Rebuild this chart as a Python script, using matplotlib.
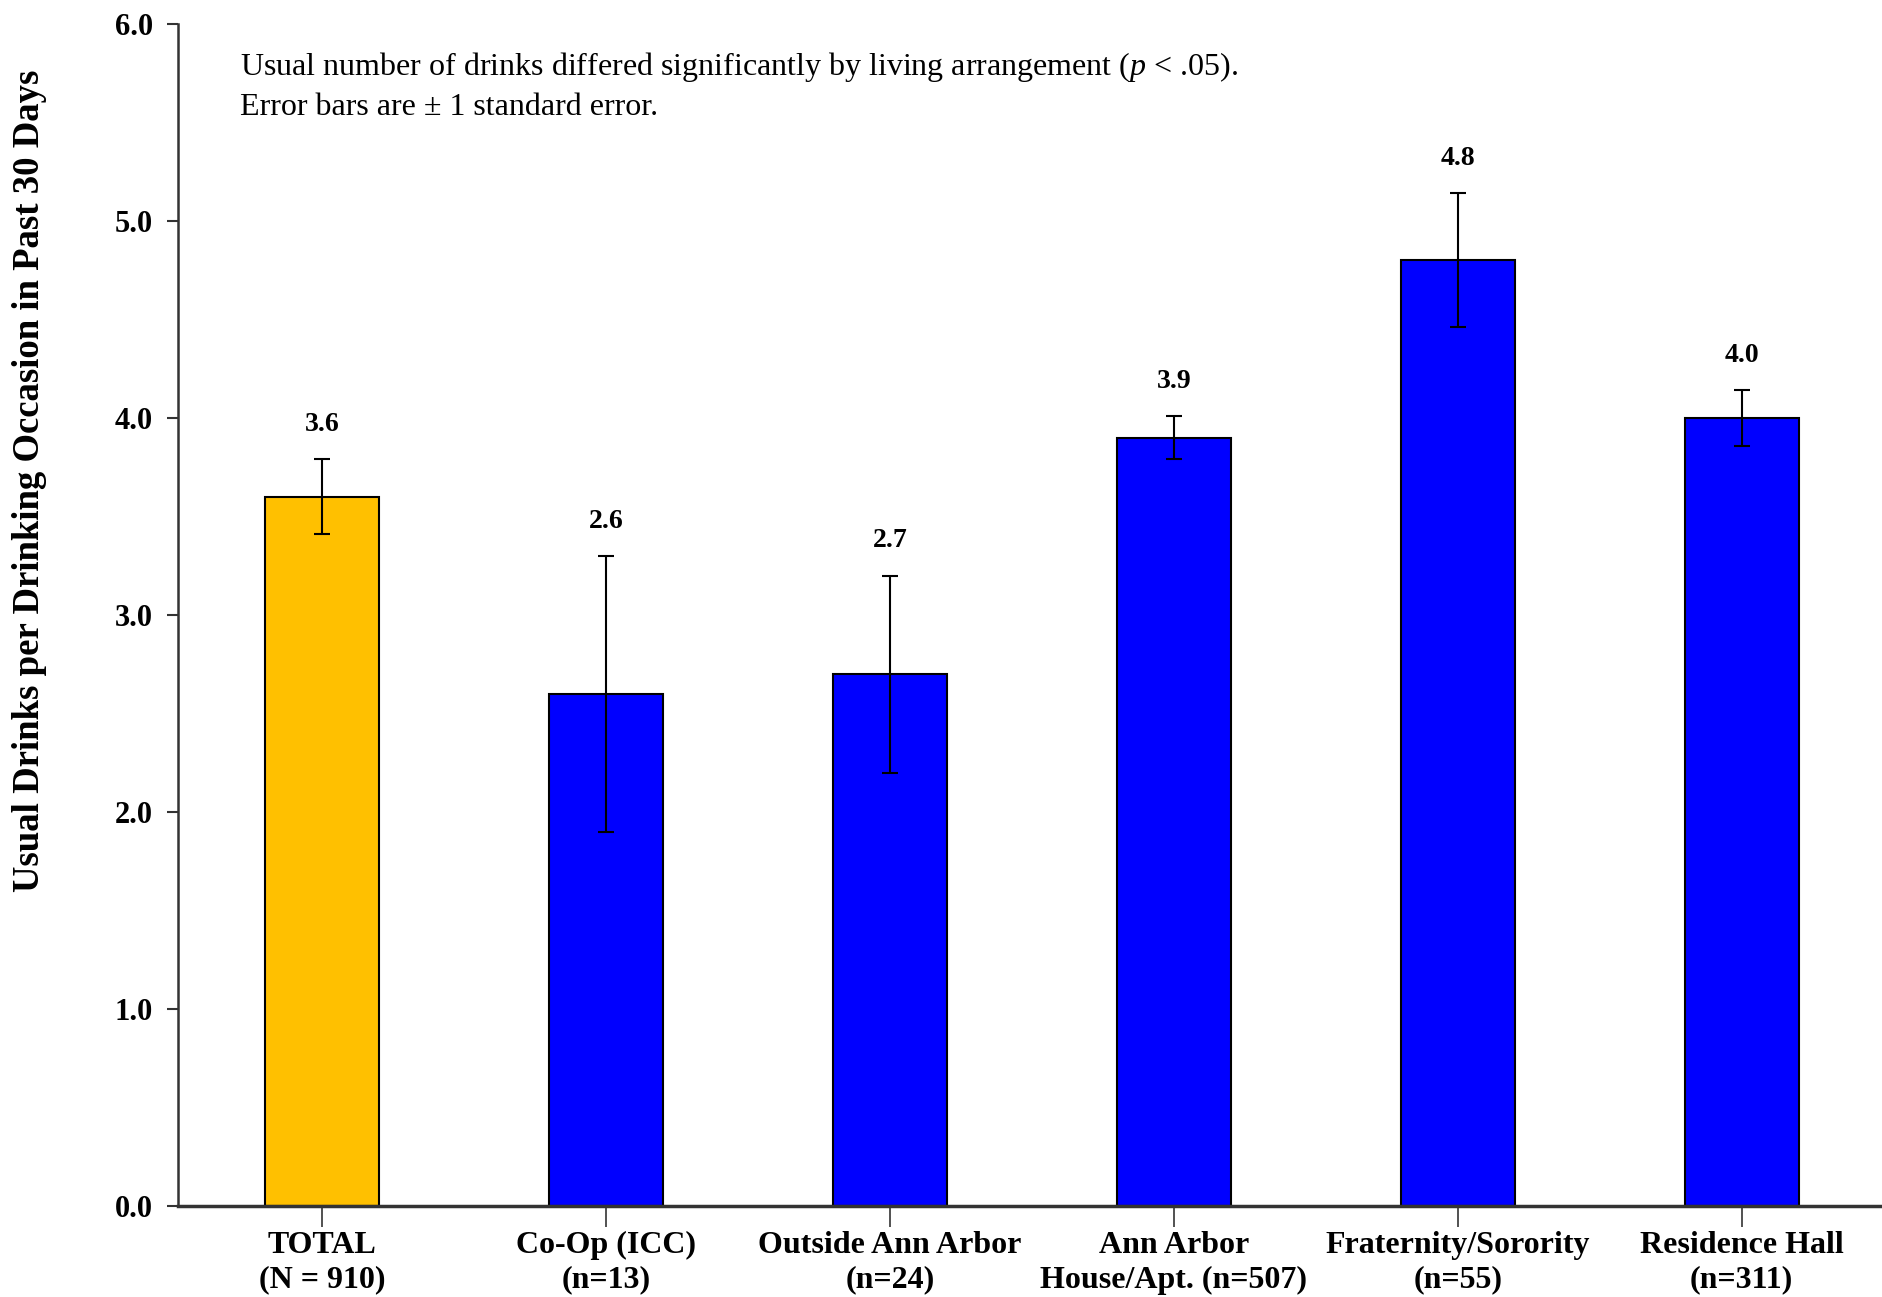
import matplotlib
matplotlib.use("Agg")
import matplotlib.pyplot as plt

categories = ["TOTAL\n(N = 910)", "Co-Op (ICC)\n(n=13)", "Outside Ann Arbor\n(n=24)",
              "Ann Arbor\nHouse/Apt. (n=507)", "Fraternity/Sorority\n(n=55)", "Residence Hall\n(n=311)"]
means = [3.6, 2.6, 2.7, 3.9, 4.8, 4.0]
std_err = [0.19, 0.70, 0.50, 0.11, 0.34, 0.14]
bar_colors = ["#FFC000", "#0000FF", "#0000FF", "#0000FF", "#0000FF", "#0000FF"]
y_ticks = [0.0, 1.0, 2.0, 3.0, 4.0, 5.0, 6.0]

plt.rcParams["font.family"] = ["Liberation Serif", "DejaVu Serif"]
plt.rcParams["mathtext.fontset"] = "custom"
plt.rcParams["mathtext.rm"] = "Liberation Serif"
plt.rcParams["mathtext.it"] = "Liberation Serif:italic"

fig = plt.figure(figsize=(18.82, 12.97), dpi=100)
ax = fig.add_axes([178 / 1882, 1 - 1206 / 1297, 1 - 178 / 1882, (1206 - 24) / 1297])

x = list(range(len(categories)))
ax.bar(x, means, width=0.4, color=bar_colors, edgecolor="black", linewidth=1.5, zorder=2)
ax.errorbar(x, means, yerr=std_err, fmt="none", ecolor="black", elinewidth=1.5,
            capsize=6, capthick=1.5, zorder=3)

for xi, m, se in zip(x, means, std_err):
    ax.annotate(f"{m:.1f}", xy=(xi, m + se), xytext=(0, 16), textcoords="offset points",
                ha="center", va="bottom", fontsize=20, fontweight="bold")

ax.set_xlim(-0.507, 5.494)
ax.set_ylim(0, 6.0)
ax.set_yticks(y_ticks)
ax.set_yticklabels([f"{t:.1f}" for t in y_ticks], fontsize=22, fontweight="bold")
ax.set_xticks(x)
ax.set_xticklabels(categories, fontsize=23, fontweight="bold", linespacing=1.25)

for s in ["top", "right"]:
    ax.spines[s].set_visible(False)
ax.spines["left"].set_color("#333333")
ax.spines["left"].set_linewidth(1.8)
ax.spines["bottom"].set_color("#333333")
ax.spines["bottom"].set_linewidth(2.5)
ax.tick_params(axis="y", direction="out", length=8, width=1.5, color="#333333", pad=10)
ax.tick_params(axis="x", direction="inout", length=30, width=1.2, color="#333333", pad=3)

fig.text(30 / 1882, 1 - 481 / 1297, "Usual Drinks per Drinking Occasion in Past 30 Days",
         rotation=90, fontsize=26.5, fontweight="bold", ha="center", va="center")

fig.text(240 / 1882, 1 - 86 / 1297,
         "Usual number of drinks differed significantly by living arrangement ($\\mathit{p}$ < .05).\n"
         "Error bars are \u00b1 1 standard error.",
         fontsize=23, va="center", ha="left", linespacing=1.4)

fig.savefig("out.png", dpi=100)
